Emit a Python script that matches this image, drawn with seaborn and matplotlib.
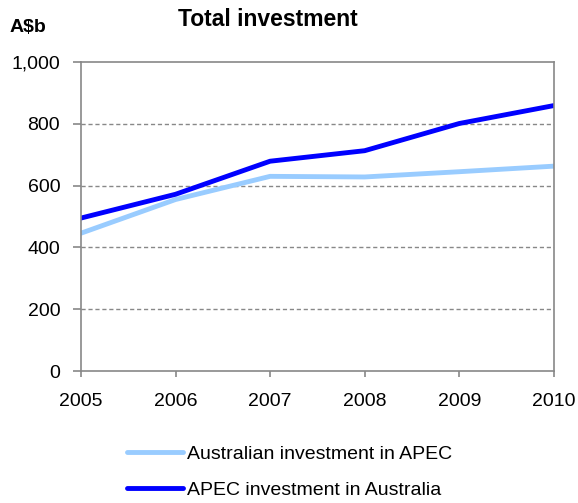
import matplotlib
matplotlib.use("Agg")
import matplotlib.pyplot as plt
import seaborn as sns
import pandas as pd

years = [2005, 2006, 2007, 2008, 2009, 2010]
aus_in_apec = [446, 555, 630, 628, 645, 663]
apec_in_aus = [495, 572, 679, 713, 801, 859]
series_names = ["Australian investment in APEC", "APEC investment in Australia"]
colors = ["#99ccff", "#0000ff"]

df = pd.DataFrame({
    "year": years * 2,
    "value": aus_in_apec + apec_in_aus,
    "series": [series_names[0]] * len(years) + [series_names[1]] * len(years),
})

sns.set_style("white")
plt.rcParams["font.family"] = ["Liberation Sans", "DejaVu Sans"]
plt.rcParams["text.color"] = "black"

fig = plt.figure(figsize=(5.78, 5.03), dpi=100)
ax = fig.add_axes([0.1401, 0.2624, 0.818, 0.6143])

sns.lineplot(data=df, x="year", y="value", hue="series", palette=colors,
             linewidth=3.5, ax=ax, legend=True)

ax.set_xlim(2005, 2010)
ax.set_ylim(0, 1000)
ax.set_yticks(range(0, 1001, 200))
ax.set_yticklabels(["0", "200", "400", "600", "800", "1,000"])
ax.set_xticks(years)
ax.set_xticklabels([str(y) for y in years])
ax.tick_params(axis="both", labelsize=14, colors="#888888", labelcolor="black",
               width=1.2, direction="out", left=True, bottom=True)
ax.tick_params(axis="y", length=6, pad=9)
ax.tick_params(axis="x", length=4, pad=12)
ax.set_xlabel("")
ax.set_ylabel("")

for y in [200, 400, 600, 800]:
    ax.axhline(y, color="#888888", linestyle=(0, (3, 2)), linewidth=1, zorder=0)

for s in ax.spines.values():
    s.set_color("#888888")
    s.set_linewidth(1.2)

fig.text(0.464, 0.961, "Total investment", ha="center", va="center",
         fontsize=16.5, fontweight="bold")
fig.text(0.017, 0.946, "A$b", ha="left", va="center", fontsize=14, fontweight="bold")

handles, labels = ax.get_legend_handles_labels()
ax.legend_.remove()
fig.legend(handles, labels, loc="center left", bbox_to_anchor=(0.2197, 0.0616),
           ncol=1, frameon=False, fontsize=14, handlelength=2.9, handletextpad=0.2,
           labelspacing=0.95, borderpad=0, borderaxespad=0)

fig.savefig("out.png", dpi=100)
